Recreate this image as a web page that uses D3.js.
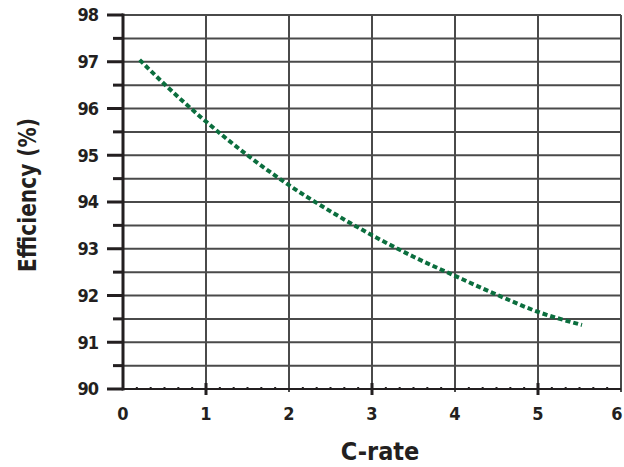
<!DOCTYPE html>
<html>
<head>
<meta charset="utf-8">
<script src="https://cdn.jsdelivr.net/npm/d3@7"></script>
<style>
body { margin: 0; background: #fff; }
text { font-family: "DejaVu Sans Condensed", "Liberation Sans Narrow", sans-serif; font-weight: bold; fill: #231f20; }
</style>
</head>
<body>
<div id="chart"></div>
<script>
var width = 624,
    height = 467;

// curve
var crate = [0.2, 0.5, 1, 1.5, 2, 2.5, 3, 3.5, 4, 4.5, 5, 5.53];
var efficiency = [97.04, 96.52, 95.72, 95.0, 94.36, 93.8, 93.29, 92.83, 92.42, 92.02, 91.65, 91.37];

var xTicks = [0, 1, 2, 3, 4, 5, 6];
var yTicks = [90, 91, 92, 93, 94, 95, 96, 97, 98];

var x = d3.scaleLinear().domain([0, 6]).range([123, 621]);
var y = d3.scaleLinear().domain([90, 98]).range([389, 15]);

var svg = d3.select("#chart").append("svg")
    .attr("width", width)
    .attr("height", height);

var grid = svg.append("g").attr("stroke", "#4a4a4a").attr("stroke-width", 2);

// horizontal grid every half unit
grid.selectAll("line.h")
    .data(d3.range(90.5, 98.01, 0.5))
    .enter().append("line")
    .attr("class", "h")
    .attr("x1", x(0)).attr("x2", x(6))
    .attr("y1", function (d) { return y(d); })
    .attr("y2", function (d) { return y(d); });

grid.selectAll("line.v")
    .data(xTicks.slice(1))
    .enter().append("line")
    .attr("class", "v")
    .attr("x1", function (d) { return x(d); })
    .attr("x2", function (d) { return x(d); })
    .attr("y1", y(98)).attr("y2", y(90) + 3);

// minor dots along bottom axis
svg.append("g").selectAll("line")
    .data(d3.range(0, 36).filter(function (i) { return i % 6 !== 0; }))
    .enter().append("line")
    .attr("x1", function (d) { return x(d / 6); })
    .attr("x2", function (d) { return x(d / 6); })
    .attr("y1", y(90) - 2).attr("y2", y(90))
    .attr("stroke", "#231f20").attr("stroke-width", 2);

// bottom axis
svg.append("line")
    .attr("x1", x(0)).attr("x2", x(6))
    .attr("y1", y(90)).attr("y2", y(90))
    .attr("stroke", "#231f20").attr("stroke-width", 2);

// odd major ticks below axis
svg.append("g").selectAll("line")
    .data([1, 3, 5])
    .enter().append("line")
    .attr("x1", function (d) { return x(d); })
    .attr("x2", function (d) { return x(d); })
    .attr("y1", y(90) - 6).attr("y2", y(90) + 6)
    .attr("stroke", "#231f20").attr("stroke-width", 3);

// left spine
svg.append("line")
    .attr("x1", x(0)).attr("x2", x(0))
    .attr("y1", y(98) - 1.5).attr("y2", y(90) + 1.5)
    .attr("stroke", "#231f20").attr("stroke-width", 3);

svg.append("g").selectAll("line")
    .data(d3.range(90, 98.01, 0.5))
    .enter().append("line")
    .attr("x1", function (d) { return d % 1 === 0 ? x(0) - 16 : x(0) - 10; })
    .attr("x2", x(0))
    .attr("y1", function (d) { return y(d); })
    .attr("y2", function (d) { return y(d); })
    .attr("stroke", "#231f20").attr("stroke-width", 3);

// tick labels
svg.append("g").selectAll("text")
    .data(yTicks)
    .enter().append("text")
    .attr("x", 98)
    .attr("y", function (d) { return y(d); })
    .attr("dy", "0.36em")
    .attr("text-anchor", "end")
    .attr("font-size", 18)
    .attr("letter-spacing", -1)
    .text(function (d) { return d; });

svg.append("g").selectAll("text")
    .data(xTicks)
    .enter().append("text")
    .attr("x", function (d) { return Math.min(x(d), width - 7); })
    .attr("y", 414)
    .attr("dy", "0.36em")
    .attr("text-anchor", "middle")
    .attr("font-size", 18)
    .text(function (d) { return d; });

// axis titles
svg.append("text")
    .attr("x", 380)
    .attr("y", 460)
    .attr("text-anchor", "middle")
    .attr("font-size", 25)
    .text("C-rate");

svg.append("text")
    .attr("transform", "translate(27,195) rotate(-90)")
    .attr("dy", "0.36em")
    .attr("text-anchor", "middle")
    .attr("font-size", 24)
    .attr("textLength", 154)
    .attr("lengthAdjust", "spacingAndGlyphs")
    .text("Efficiency (%)");

// curve
var line = d3.line()
    .x(function (d, i) { return x(crate[i]); })
    .y(function (d) { return y(d); })
    .curve(d3.curveMonotoneX);

svg.append("path")
    .datum(efficiency)
    .attr("d", line)
    .attr("fill", "none")
    .attr("stroke", "#0b6e3e")
    .attr("stroke-width", 4)
    .attr("stroke-dasharray", "5,3");
</script>
</body>
</html>
